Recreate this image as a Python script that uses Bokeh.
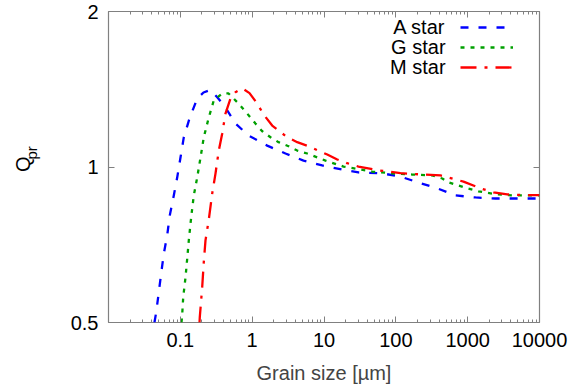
from bokeh.plotting import figure
from bokeh.layouts import row
from bokeh.models import (Range1d, FixedTicker, LogAxis, Legend, LegendItem,
                          Label, CustomJSTickFormatter)
from bokeh.core.properties import value
from bokeh.embed import file_html
from bokeh.resources import INLINE

# ---- data ----
a_x = [0.0436, 0.0461, 0.0501, 0.0541, 0.0589, 0.0656, 0.0713, 0.0811, 0.0904,
       0.1005, 0.1117, 0.1355, 0.172, 0.21, 0.263, 0.329, 0.425, 0.586, 0.889,
       1.62, 2.91, 5.19, 9.44, 17.9, 30.2, 64.6, 116, 207, 380, 678, 1285, 2443, 10000]
a_q = [0.5, 0.523, 0.572, 0.622, 0.680, 0.737, 0.806, 0.881, 0.954,
       1.043, 1.141, 1.247, 1.357, 1.394, 1.41, 1.363, 1.304, 1.214, 1.151,
       1.100, 1.062, 1.029, 1.007, 0.989, 0.976, 0.972, 0.958, 0.933, 0.909, 0.881, 0.873, 0.869, 0.869]

g_x = [0.1038, 0.106, 0.1096, 0.118, 0.1247, 0.1312, 0.1386, 0.1463, 0.154, 0.1717,
       0.191, 0.212, 0.249, 0.292, 0.383, 0.469, 0.619, 0.853, 1.11, 1.38, 1.80,
       2.33, 3.21, 4.24, 5.84, 10.5, 18.7, 27.5, 46.9, 89, 169, 321, 443, 541, 875,
       1416, 2578, 4346, 10000]
g_q = [0.5, 0.516, 0.559, 0.611, 0.665, 0.721, 0.777, 0.831, 0.881, 0.954,
       1.043, 1.141, 1.247, 1.345, 1.388, 1.388, 1.335, 1.269, 1.214, 1.173, 1.142,
       1.117, 1.097, 1.076, 1.062, 1.029, 1.002, 0.993, 0.980, 0.972, 0.967, 0.963, 0.950, 0.934, 0.914,
       0.897, 0.885, 0.881, 0.881]

m_x = [0.185, 0.1866, 0.2015, 0.212, 0.224, 0.249, 0.278, 0.309, 0.343, 0.383,
       0.425, 0.499, 0.586, 0.734, 0.918, 1.175, 1.44, 1.90, 3.07, 4.24, 6.09, 11.1,
       15.3, 21.0, 30.2, 57.4, 116, 233, 419, 875, 1511, 2291, 3556, 6745, 10000]
m_q = [0.5, 0.512, 0.585, 0.654, 0.721, 0.791, 0.889, 0.972, 1.076, 1.161,
       1.269, 1.357, 1.396, 1.419, 1.39, 1.327, 1.264, 1.203, 1.142, 1.117, 1.097, 1.057,
       1.034, 1.017, 1.002, 0.985, 0.973, 0.967, 0.963, 0.937, 0.909, 0.893, 0.885, 0.882, 0.882]

series_names = ["A star", "G star", "M star"]
x_ticks = [0.1, 1, 10, 100, 1000, 10000]
x_minor = [m * 10.0 ** k for k in range(-2, 4) for m in range(2, 10)]
y_ticks = [0.5, 1, 2]

FONT = "Liberation Sans"
FS = "20px"
GRAY = "#808080"
W_LAB = 50   # width of the strip that carries the rotated y-axis title

p = figure(frame_width=431, frame_height=311,
           x_axis_type="log", y_axis_type="log",
           x_range=Range1d(0.01, 10000), y_range=Range1d(0.5, 2),
           output_backend="svg", toolbar_location=None,
           min_border_left=108 - W_LAB, min_border_right=48,
           min_border_top=11, min_border_bottom=65,
           background_fill_color="white", border_fill_color="white")
p.grid.visible = False
p.outline_line_color = GRAY
p.outline_line_width = 1.2

fmt = CustomJSTickFormatter(code="return tick.toString()")
blank = CustomJSTickFormatter(code="return ''")

def style_axis(ax, labels=True):
    ax.axis_line_color = None
    ax.major_tick_line_color = GRAY
    ax.minor_tick_line_color = GRAY
    ax.major_tick_in = 6
    ax.major_tick_out = 0
    ax.minor_tick_in = 3
    ax.minor_tick_out = 0
    if labels:
        ax.major_label_text_font = FONT
        ax.major_label_text_font_size = FS
        ax.major_label_text_color = "black"
        ax.formatter = fmt
    else:
        ax.major_label_text_font_size = "0px"
        ax.major_label_standoff = 0
        ax.formatter = blank

xb = p.xaxis[0]
xb.ticker = FixedTicker(ticks=x_ticks, minor_ticks=x_minor)
style_axis(xb)
xb.major_label_standoff = 10
xb.axis_label = "Grain size [µm]"
xb.axis_label_text_font = FONT
xb.axis_label_text_font_size = FS
xb.axis_label_text_font_style = "normal"
xb.axis_label_standoff = 12

yl = p.yaxis[0]
yl.ticker = FixedTicker(ticks=y_ticks, minor_ticks=[])
style_axis(yl)
yl.major_label_standoff = 10

xt = LogAxis(ticker=FixedTicker(ticks=x_ticks, minor_ticks=x_minor))
style_axis(xt, labels=False)
p.add_layout(xt, "above")
yr = LogAxis(ticker=FixedTicker(ticks=y_ticks, minor_ticks=[]))
style_axis(yr, labels=False)
p.add_layout(yr, "right")

LW = 2.3
ra = p.line(a_x, a_q, line_color="#0000ff", line_width=LW, line_dash="8 10")
rg = p.line(g_x, g_q, line_color="#00a000", line_width=LW, line_dash="4 6")
rm = p.line(m_x, m_q, line_color="#ff0000", line_width=LW, line_dash="16 8 3 8")

# legend samples only (texts are drawn to their left, gnuplot style)
legend = Legend(items=[LegendItem(label=value(" "), renderers=[r]) for r in (ra, rg, rm)],
                location=(352, 245), padding=0, margin=0, spacing=0,
                glyph_width=53, glyph_height=20, label_standoff=0,
                label_width=0, label_height=20, label_text_font_size="1px",
                background_fill_alpha=0, border_line_alpha=0)
p.add_layout(legend)

leg_y = [1.865, 1.706, 1.560]
for name, yy in zip(series_names, leg_y):
    p.add_layout(Label(x=492, y=yy, text=name, text_align="right", text_baseline="middle",
                       text_font=FONT, text_font_size=FS, text_color="black"))

# narrow strip on the left carrying the rotated axis title Q_pr
t = figure(width=W_LAB, height=387, x_range=Range1d(0, W_LAB), y_range=Range1d(0, 387),
           output_backend="svg", toolbar_location=None, min_border=0,
           x_axis_location=None, y_axis_location=None,
           background_fill_color="white", border_fill_color="white")
t.grid.visible = False
t.outline_line_color = None
t.text(x=[22], y=[197], text=["Q"], angle=1.5707963, text_align="center",
       text_baseline="middle", text_font=value(FONT), text_font_size=value(FS),
       text_color="black")
t.text(x=[30.5], y=[211], text=["pr"], angle=1.5707963, text_align="center",
       text_baseline="middle", text_font=value(FONT), text_font_size=value("15px"),
       text_color="black")

layout = row(t, p, spacing=0)
open("out.html", "w").write(file_html(layout, INLINE))
